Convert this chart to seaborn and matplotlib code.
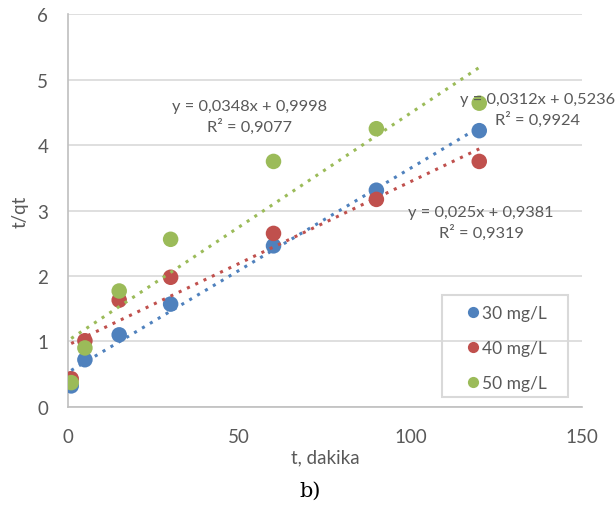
import numpy as np
import pandas as pd
import matplotlib
matplotlib.use("Agg")
import matplotlib.pyplot as plt
from matplotlib.patches import Rectangle
import seaborn as sns

# === DATA ===
t = [1, 5, 15, 30, 60, 90, 120]
tq_30 = [0.32, 0.72, 1.10, 1.57, 2.46, 3.31, 4.22]
tq_40 = [0.43, 1.01, 1.63, 1.98, 2.65, 3.17, 3.75]
tq_50 = [0.37, 0.90, 1.77, 2.56, 3.75, 4.25, 4.64]
series_labels = ["30 mg/L", "40 mg/L", "50 mg/L"]
eq_texts = [
    "y = 0,0312x + 0,5236\nR² = 0,9924",
    "y = 0,025x + 0,9381\nR² = 0,9319",
    "y = 0,0348x + 0,9998\nR² = 0,9077",
]

df = pd.DataFrame({
    "t": t * 3,
    "tq": tq_30 + tq_40 + tq_50,
    "conc": np.repeat(series_labels, len(t)),
})

# === STYLE ===
sns.set_style("white")
plt.rcParams["font.family"] = ["Lato", "DejaVu Sans"]
colors = ["#4F81BD", "#C0504D", "#9BBB59"]
text_gray = "#595959"

fig = plt.figure(figsize=(6.16, 5.06), dpi=100)
ax = fig.add_axes([0.110, 0.194, 0.835, 0.776])

# points
sns.scatterplot(data=df, x="t", y="tq", hue="conc", palette=colors,
                s=125, edgecolor="none", ax=ax, zorder=3, legend=True)

# dotted linear trendlines, drawn on top of the markers
for lab, col in zip(series_labels, colors):
    sub = df[df["conc"] == lab]
    sns.regplot(data=sub, x="t", y="tq", ci=None, scatter=False, truncate=True,
                color=col, ax=ax,
                line_kws={"linestyle": (0, (1, 2)), "linewidth": 2.2, "zorder": 4})

# equation labels
eq_pos = [(137, 4.54), (120.5, 2.82), (53, 4.44)]
for (x, y), txt in zip(eq_pos, eq_texts):
    ax.text(x, y, txt, ha="center", va="center", multialignment="center",
            fontsize=11.8, color=text_gray, linespacing=1.35, zorder=5, clip_on=False)

ax.set_xlim(0, 150)
ax.set_ylim(0, 6)
ax.set_xticks([0, 50, 100, 150])
ax.set_yticks(range(0, 7))
ax.grid(axis="y", color="#d9d9d9", linewidth=1.2)
ax.set_axisbelow(True)
for side in ["top", "right"]:
    ax.spines[side].set_visible(False)
for side in ["left", "bottom"]:
    ax.spines[side].set_color("#bfbfbf")
    ax.spines[side].set_linewidth(1.2)
ax.tick_params(axis="both", length=0, labelsize=13.5, labelcolor=text_gray)
ax.tick_params(axis="x", pad=15)
ax.tick_params(axis="y", pad=14)

ax.set_xlabel("t, dakika", fontsize=13.5, color=text_gray, labelpad=3)
ax.set_ylabel("t/qt", fontsize=13.5, color=text_gray, labelpad=6)

# legend: entries without frame, box drawn separately (transparent, gridline shows through)
leg = ax.legend(loc="upper left", bbox_to_anchor=(0.755, 0.282), fontsize=12.5,
                frameon=False, labelspacing=1.1,
                handletextpad=0.0, handlelength=1.0, borderpad=0.0,
                markerscale=0.72, labelcolor=text_gray)
ax.add_patch(Rectangle((0.728, 0.025), 0.245, 0.26, transform=ax.transAxes,
                       facecolor="none", edgecolor="#d9d9d9", linewidth=1.5,
                       zorder=6, clip_on=False))

fig.text(0.503, 0.030, "b)", ha="center", va="center", fontsize=15,
         color="black", family=["DejaVu Serif"])

plt.savefig("out.png", dpi=100)
